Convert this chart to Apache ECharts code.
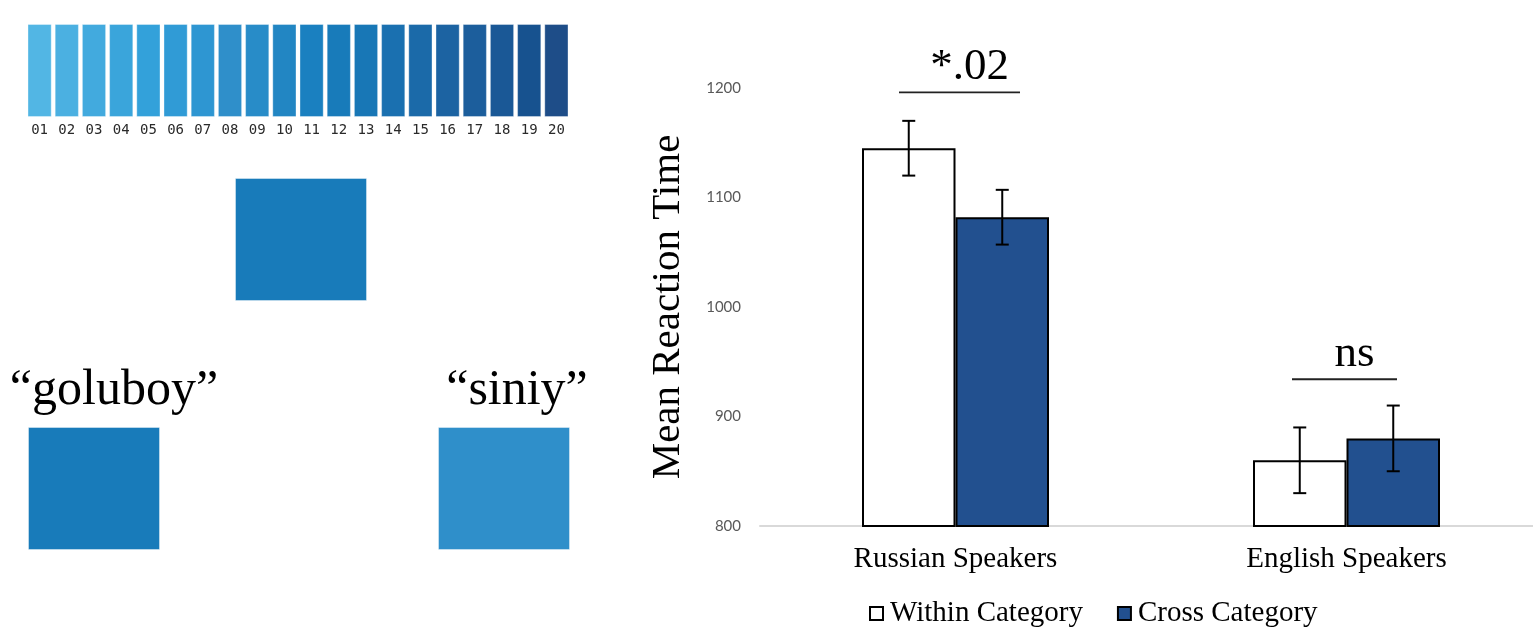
<!DOCTYPE html>
<html>
<head>
<meta charset="utf-8">
<title>Mean Reaction Time</title>
<script src="https://cdn.jsdelivr.net/npm/echarts@6/dist/echarts.min.js"></script>
<style>
  html, body { margin: 0; padding: 0; background: #fff; }
  #chart { width: 1533px; height: 640px; }
</style>
</head>
<body>
<div id="chart"></div>
<script>
// Colour strip: twenty shades from light to dark blue
const swatchLabels = ['01','02','03','04','05','06','07','08','09','10',
                      '11','12','13','14','15','16','17','18','19','20'];
const swatchColors = ['#52b6e4','#4bb0e1','#42aade','#3aa5db','#33a1da','#309bd6','#2e96d2','#2f8fca','#288cc8','#2286c3',
                      '#1a80c0','#187bba','#1877b6','#1a70b0','#1b6aa9','#1c63a2','#1c5e9c','#1a5896','#17528f','#1e4d88'];

// Stimulus squares: target above, two named choices below
const stimulusWords = ['', '\u201cgoluboy\u201d', '\u201csiniy\u201d'];
const stimulusSwatch = [11, 11, 7];   // index into swatchColors

// Reaction-time results
const groups = ['Russian Speakers', 'English Speakers'];
const seriesNames = ['Within Category', 'Cross Category'];
const withinMeans = [1145, 860];
const crossMeans = [1082, 880];
const withinErr = [25, 30];
const crossErr = [25, 30];
const yTicks = [800, 900, 1000, 1100, 1200];

// Significance markers above each group
const sigLabels = ['*.02', 'ns'];
const sigLevels = [1196, 934];

const BAR_W = 93.5;
const SERIF = '"Liberation Serif", "Times New Roman", serif';
const chart = echarts.init(document.getElementById('chart'), null, { renderer: 'canvas' });

// Error bar whiskers centred on each bar
function errorSeries(means, errs, side) {
  return {
    type: 'custom',
    z: 5,
    data: means.map((m, i) => [i, m - errs[i], m + errs[i]]),
    renderItem: function (params, api) {
      const lo = api.coord([api.value(0), api.value(1)]);
      const hi = api.coord([api.value(0), api.value(2)]);
      const x = lo[0] + side * BAR_W / 2;
      const cap = 6.5;
      const style = { stroke: '#000', lineWidth: 2 };
      return {
        type: 'group',
        children: [
          { type: 'line', shape: { x1: x, y1: hi[1], x2: x, y2: lo[1] }, style },
          { type: 'line', shape: { x1: x - cap, y1: hi[1], x2: x + cap, y2: hi[1] }, style },
          { type: 'line', shape: { x1: x - cap, y1: lo[1], x2: x + cap, y2: lo[1] }, style }
        ]
      };
    }
  };
}

// Bracket line geometry (half width and nudge from the group centre)
const sigHalfWidth = [60.5, 52.5];
const sigShift = [4, -2];

const option = {
  backgroundColor: '#fff',
  animation: false,
  grid: [
    { left: 26, top: 24, width: 544, height: 93, outerBoundsMode: 'none' },
    { left: 760, top: 88, width: 782, bottom: 114, outerBoundsMode: 'none' }
  ],
  xAxis: [
    {
      gridIndex: 0, type: 'category', data: swatchLabels,
      axisLine: { show: false }, axisTick: { show: false },
      axisLabel: { margin: 6, fontFamily: '"DejaVu Sans Mono", monospace', fontSize: 14, color: '#2a2a2a' }
    },
    {
      gridIndex: 1, type: 'category', data: groups,
      axisLine: { show: true, lineStyle: { color: '#d9d9d9', width: 2 } },
      axisTick: { show: false },
      axisLabel: { margin: 19, fontFamily: SERIF, fontSize: 29, color: '#000' }
    }
  ],
  yAxis: [
    { gridIndex: 0, type: 'value', min: 0, max: 1, show: false },
    {
      gridIndex: 1, type: 'value', min: yTicks[0], max: yTicks[yTicks.length - 1], interval: 100,
      axisLine: { show: false }, axisTick: { show: false }, splitLine: { show: false },
      axisLabel: { margin: 19, fontFamily: 'Lato, "Open Sans", sans-serif', fontSize: 15, color: '#595959',
                   formatter: v => String(v) },
      name: 'Mean Reaction Time', nameLocation: 'middle', nameGap: 71,
      nameTextStyle: { fontFamily: SERIF, fontSize: 41, color: '#000' }
    }
  ],
  legend: {
    left: 864, top: 594, itemWidth: 13, itemHeight: 13, itemGap: 34,
    icon: 'rect',
    textStyle: { fontFamily: SERIF, fontSize: 29, color: '#000', padding: [0, 0, 0, 2] },
    data: seriesNames
  },
  series: [
    {
      type: 'bar', xAxisIndex: 0, yAxisIndex: 0, barCategoryGap: '11%',
      data: swatchLabels.map((_, i) => ({
        value: 1,
        itemStyle: { color: swatchColors[i], borderColor: 'rgba(255,255,255,0.35)', borderWidth: 1 }
      })),
      silent: true
    },
    {
      name: seriesNames[0], type: 'bar', xAxisIndex: 1, yAxisIndex: 1,
      barWidth: BAR_W, barGap: '0%', data: withinMeans,
      itemStyle: { color: '#fff', borderColor: '#000', borderWidth: 2 }
    },
    {
      name: seriesNames[1], type: 'bar', xAxisIndex: 1, yAxisIndex: 1,
      barWidth: BAR_W, barGap: '0%', data: crossMeans,
      itemStyle: { color: '#22508f', borderColor: '#000', borderWidth: 2 }
    },
    Object.assign(errorSeries(withinMeans, withinErr, -1), { xAxisIndex: 1, yAxisIndex: 1 }),
    Object.assign(errorSeries(crossMeans, crossErr, 1), { xAxisIndex: 1, yAxisIndex: 1 }),
    {
      type: 'custom', xAxisIndex: 1, yAxisIndex: 1, z: 6, clip: false,
      data: sigLevels.map((v, i) => [i, v]),
      renderItem: function (params, api) {
        const i = params.dataIndex;
        const p = api.coord([api.value(0), api.value(1)]);
        const cx = p[0] + sigShift[i];
        const hw = sigHalfWidth[i];
        return {
          type: 'group',
          children: [
            { type: 'line', shape: { x1: cx - hw, y1: p[1], x2: cx + hw, y2: p[1] },
              style: { stroke: '#222', lineWidth: 1.8 } },
            { type: 'text', x: cx + 10, y: p[1] - 3,
              style: { text: sigLabels[i], fill: '#000', font: '45px ' + SERIF,
                       textAlign: 'center', textVerticalAlign: 'bottom' } }
          ]
        };
      }
    }
  ],
  graphic: []
};

chart.setOption(option);

// Stimulus squares and their names in the left panel
const squareBoxes = [
  { x: 235, y: 178 },
  { x: 28, y: 427 },
  { x: 438, y: 427 }
];
const wordAnchors = [null, { x: 114, y: 391 }, { x: 517, y: 391 }];
const graphics = [];
squareBoxes.forEach((b, i) => {
  graphics.push({
    type: 'rect', left: b.x, top: b.y,
    shape: { width: 131, height: 122 },
    style: { fill: swatchColors[stimulusSwatch[i]], stroke: 'rgba(255,255,255,0.4)', lineWidth: 1 }
  });
  if (stimulusWords[i]) {
    graphics.push({
      type: 'text', x: wordAnchors[i].x, y: wordAnchors[i].y,
      style: { text: stimulusWords[i], fill: '#000', font: '50px ' + SERIF,
               textAlign: 'center', textVerticalAlign: 'middle' }
    });
  }
});
chart.setOption({ graphic: graphics });
</script>
</body>
</html>
